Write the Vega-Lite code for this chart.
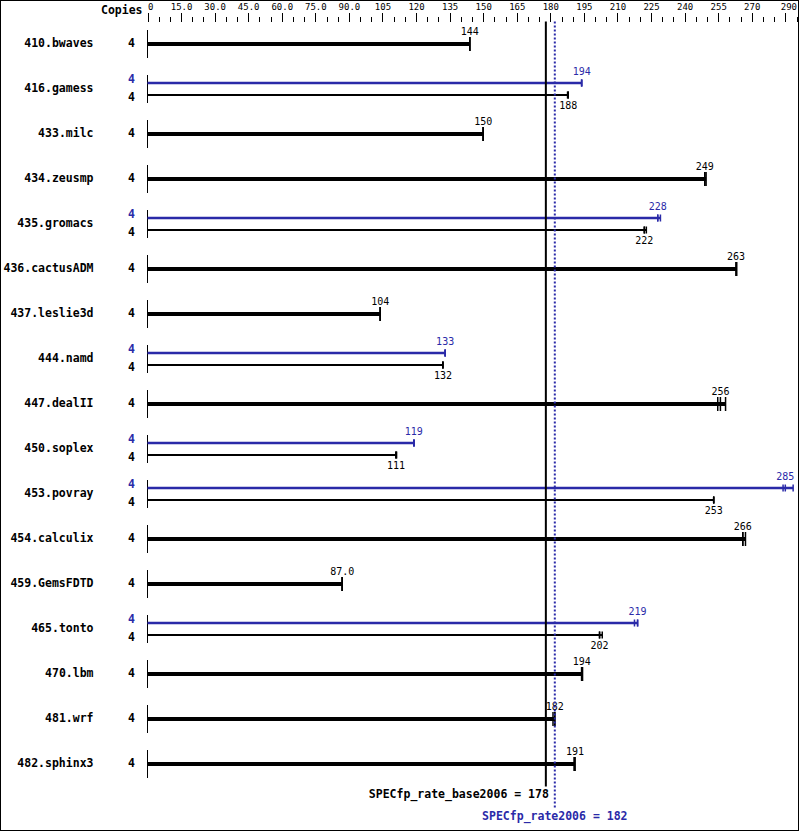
{
  "$schema": "https://vega.github.io/schema/vega-lite/v6.json",
  "width": 799,
  "height": 831,
  "autosize": "none",
  "padding": 0,
  "background": "white",
  "config": {
    "view": {"stroke": "black", "strokeWidth": 2},
    "font": "DejaVu Sans Mono",
    "text": {"font": "DejaVu Sans Mono"},
    "axisX": {"labelOverlap": false, "labelBound": false, "labelFlush": true, "domain": false, "grid": false, "tickColor": "black", "tickWidth": 1, "labelFont": "DejaVu Sans Mono", "labelFontSize": 9, "labelColor": "black", "title": null}
  },
  "resolve": {"axis": {"x": "independent"}},
  "datasets": {
    "bars": [
      {"bench": "410.bwaves", "series": "base", "copies": 4, "lo": 144, "mid": 144, "hi": 144},
      {"bench": "416.gamess", "series": "peak", "copies": 4, "lo": 194, "mid": 194, "hi": 194},
      {"bench": "416.gamess", "series": "base", "copies": 4, "lo": 187.7, "mid": 188, "hi": 188},
      {"bench": "433.milc", "series": "base", "copies": 4, "lo": 150, "mid": 150, "hi": 150},
      {"bench": "434.zeusmp", "series": "base", "copies": 4, "lo": 249, "mid": 249, "hi": 249.6},
      {"bench": "435.gromacs", "series": "peak", "copies": 4, "lo": 228, "mid": 228, "hi": 229.2},
      {"bench": "435.gromacs", "series": "base", "copies": 4, "lo": 222, "mid": 222, "hi": 222.9},
      {"bench": "436.cactusADM", "series": "base", "copies": 4, "lo": 263, "mid": 263, "hi": 263.3},
      {"bench": "437.leslie3d", "series": "base", "copies": 4, "lo": 104, "mid": 104, "hi": 104},
      {"bench": "444.namd", "series": "peak", "copies": 4, "lo": 133, "mid": 133, "hi": 133},
      {"bench": "444.namd", "series": "base", "copies": 4, "lo": 132, "mid": 132, "hi": 132},
      {"bench": "447.dealII", "series": "base", "copies": 4, "lo": 254.8, "mid": 256, "hi": 258.3},
      {"bench": "450.soplex", "series": "peak", "copies": 4, "lo": 119, "mid": 119, "hi": 119.2},
      {"bench": "450.soplex", "series": "base", "copies": 4, "lo": 111, "mid": 111, "hi": 111.3},
      {"bench": "453.povray", "series": "peak", "copies": 4, "lo": 284, "mid": 285, "hi": 288.5},
      {"bench": "453.povray", "series": "base", "copies": 4, "lo": 253, "mid": 253, "hi": 253},
      {"bench": "454.calculix", "series": "base", "copies": 4, "lo": 266, "mid": 266, "hi": 267.2},
      {"bench": "459.GemsFDTD", "series": "base", "copies": 4, "lo": 87, "mid": 87, "hi": 87},
      {"bench": "465.tonto", "series": "peak", "copies": 4, "lo": 217.6, "mid": 219, "hi": 219},
      {"bench": "465.tonto", "series": "base", "copies": 4, "lo": 202, "mid": 202, "hi": 203.2},
      {"bench": "470.lbm", "series": "base", "copies": 4, "lo": 194, "mid": 194, "hi": 194.4},
      {"bench": "481.wrf", "series": "base", "copies": 4, "lo": 181.2, "mid": 182, "hi": 182},
      {"bench": "482.sphinx3", "series": "base", "copies": 4, "lo": 190.6, "mid": 191, "hi": 191}
    ],
    "summary": [
      {"metric": "SPECfp_rate_base2006", "series": "base", "value": 178, "label": "SPECfp_rate_base2006 = 178"},
      {"metric": "SPECfp_rate2006", "series": "peak", "value": 182, "label": "SPECfp_rate2006 = 182"}
    ]
  },
  "layer": [
    {
      "data": {"name": "bars"},
      "transform": [
        {"joinaggregate": [{"op": "count", "as": "n"}], "groupby": ["bench"]}
      ],
      "layer": [
        {
          "transform": [{"filter": "datum.n == 1"}],
          "mark": {"type": "rule", "strokeWidth": 4, "color": "black"},
          "encoding": {
            "x": {
              "field": "hi",
              "type": "quantitative",
              "scale": {"domain": [0, 290], "range": [147.5, 796.5], "nice": false, "zero": false},
              "axis": {
                "orient": "top",
                "offset": -21.5,
                "title": null,
                "values": [0,15,30,45,60,75,90,105,120,135,150,165,180,195,210,225,240,255,270,285],
                "labelExpr": "datum.value === 0 ? '0' : datum.value <= 270 ? format(datum.value, '.3r') : ''",
                "tickSize": 9,
                "labelPadding": 1
              }
            },
            "x2": {"datum": 0},
            "y": {
              "field": "bench",
              "type": "nominal",
              "sort": null,
              "scale": {
                "domain": ["410.bwaves","416.gamess","433.milc","434.zeusmp","435.gromacs","436.cactusADM","437.leslie3d","444.namd","447.dealII","450.soplex","453.povray","454.calculix","459.GemsFDTD","465.tonto","470.lbm","481.wrf","482.sphinx3"],
                "range": [21.5, 786.5],
                "paddingInner": 0,
                "paddingOuter": 0
              },
              "axis": {
                "orient": "left",
                "offset": -147,
                "domain": false,
                "ticks": false,
                "grid": false,
                "labelPadding": 54,
                "labelFont": "DejaVu Sans Mono",
                "labelFontWeight": "bold",
                "labelFontSize": 11.5,
                "labelColor": "black",
                "title": "Copies",
                "titleAngle": 0,
                "titleAlign": "right",
                "titleBaseline": "middle",
                "titleX": -5,
                "titleY": 10,
                "titleFont": "DejaVu Sans Mono",
                "titleFontSize": 11.5,
                "titleFontWeight": "bold",
                "titleColor": "black"
              }
            }
          }
        },
        {
          "mark": {"type": "tick", "size": 28, "thickness": 1, "color": "black", "opacity": 1},
          "encoding": {
            "x": {"datum": 0, "type": "quantitative"},
            "y": {"field": "bench", "type": "nominal"}
          }
        },
        {
          "transform": [{"filter": "datum.n == 1"}, {"fold": ["lo", "mid", "hi"], "as": ["run", "result"]}],
          "mark": {"type": "tick", "size": 14, "thickness": 1.5, "color": "black", "opacity": 1},
          "encoding": {
            "x": {"field": "result", "type": "quantitative"},
            "y": {"field": "bench", "type": "nominal"}
          }
        },
        {
          "transform": [{"filter": "datum.n == 1"}],
          "mark": {"type": "text", "dy": -12, "fontSize": 10, "color": "black", "baseline": "middle", "align": "center"},
          "encoding": {
            "x": {"field": "mid", "type": "quantitative"},
            "y": {"field": "bench", "type": "nominal"},
            "text": {"field": "mid", "type": "quantitative", "format": ".3r"}
          }
        },
        {
          "transform": [{"filter": "datum.n == 1"}],
          "mark": {"type": "text", "dx": -16, "fontSize": 11.5, "fontWeight": "bold", "color": "black", "baseline": "middle", "align": "center"},
          "encoding": {
            "x": {"datum": 0, "type": "quantitative"},
            "y": {"field": "bench", "type": "nominal"},
            "text": {"field": "copies", "type": "nominal"}
          }
        },
        {
          "transform": [{"filter": "datum.n == 2 && datum.series == 'peak'"}],
          "mark": {"type": "rule", "strokeWidth": 2.5, "color": "#2a2aa8", "yOffset": -6},
          "encoding": {
            "x": {"field": "hi", "type": "quantitative"},
            "x2": {"datum": 0},
            "y": {"field": "bench", "type": "nominal"}
          }
        },
        {
          "transform": [{"filter": "datum.n == 2 && datum.series == 'peak'"}, {"fold": ["lo", "mid", "hi"], "as": ["run", "result"]}],
          "mark": {"type": "tick", "size": 7, "thickness": 1.5, "color": "#2a2aa8", "yOffset": -6, "opacity": 1},
          "encoding": {
            "x": {"field": "result", "type": "quantitative"},
            "y": {"field": "bench", "type": "nominal"}
          }
        },
        {
          "transform": [{"filter": "datum.n == 2 && datum.series == 'peak'"}],
          "mark": {"type": "text", "dy": -17, "fontSize": 10, "color": "#2a2aa8", "baseline": "middle", "align": "center"},
          "encoding": {
            "x": {"field": "mid", "type": "quantitative"},
            "y": {"field": "bench", "type": "nominal"},
            "text": {"field": "mid", "type": "quantitative", "format": ".3r"}
          }
        },
        {
          "transform": [{"filter": "datum.n == 2 && datum.series == 'peak'"}],
          "mark": {"type": "text", "dx": -16, "dy": -9, "fontSize": 11.5, "fontWeight": "bold", "color": "#2a2aa8", "baseline": "middle", "align": "center"},
          "encoding": {
            "x": {"datum": 0, "type": "quantitative"},
            "y": {"field": "bench", "type": "nominal"},
            "text": {"field": "copies", "type": "nominal"}
          }
        },
        {
          "transform": [{"filter": "datum.n == 2 && datum.series == 'base'"}],
          "mark": {"type": "rule", "strokeWidth": 2, "color": "black", "yOffset": 6},
          "encoding": {
            "x": {"field": "hi", "type": "quantitative"},
            "x2": {"datum": 0},
            "y": {"field": "bench", "type": "nominal"}
          }
        },
        {
          "transform": [{"filter": "datum.n == 2 && datum.series == 'base'"}, {"fold": ["lo", "mid", "hi"], "as": ["run", "result"]}],
          "mark": {"type": "tick", "size": 7, "thickness": 1.5, "color": "black", "yOffset": 6, "opacity": 1},
          "encoding": {
            "x": {"field": "result", "type": "quantitative"},
            "y": {"field": "bench", "type": "nominal"}
          }
        },
        {
          "transform": [{"filter": "datum.n == 2 && datum.series == 'base'"}],
          "mark": {"type": "text", "dy": 17, "fontSize": 10, "color": "black", "baseline": "middle", "align": "center"},
          "encoding": {
            "x": {"field": "mid", "type": "quantitative"},
            "y": {"field": "bench", "type": "nominal"},
            "text": {"field": "mid", "type": "quantitative", "format": ".3r"}
          }
        },
        {
          "transform": [{"filter": "datum.n == 2 && datum.series == 'base'"}],
          "mark": {"type": "text", "dx": -16, "dy": 8.5, "fontSize": 11.5, "fontWeight": "bold", "color": "black", "baseline": "middle", "align": "center"},
          "encoding": {
            "x": {"datum": 0, "type": "quantitative"},
            "y": {"field": "bench", "type": "nominal"},
            "text": {"field": "copies", "type": "nominal"}
          }
        },
        {
          "data": {"name": "summary"},
          "transform": [{"filter": "datum.series == 'base'"}],
          "mark": {"type": "rule", "strokeWidth": 2, "color": "black"},
          "encoding": {
            "x": {"field": "value", "type": "quantitative"},
            "y": {"datum": "410.bwaves", "type": "nominal", "bandPosition": 0},
            "y2": {"datum": "482.sphinx3", "bandPosition": 1}
          }
        },
        {
          "data": {"name": "summary"},
          "transform": [{"filter": "datum.series == 'peak'"}],
          "mark": {"type": "rule", "strokeWidth": 2, "color": "#2a2aa8", "strokeDash": [2, 2], "y2Offset": 21},
          "encoding": {
            "x": {"field": "value", "type": "quantitative"},
            "y": {"datum": "410.bwaves", "type": "nominal", "bandPosition": 0},
            "y2": {"datum": "482.sphinx3", "bandPosition": 1}
          }
        }
      ]
    },
    {
      "data": {"name": "summary"},
      "transform": [{"filter": "datum.series == 'base'"}],
      "mark": {"type": "text", "align": "right", "baseline": "middle", "dx": 3, "dy": -36, "fontSize": 11.5, "fontWeight": "bold", "color": "black"},
      "encoding": {
        "x": {
          "field": "value",
          "type": "quantitative",
          "axis": {
            "orient": "top",
            "offset": -21.5,
            "title": null,
            "values": [5,10,20,25,35,40,50,55,65,70,80,85,95,100,110,115,125,130,140,145,155,160,170,175,185,190,200,205,215,220,230,235,245,250,260,265,275,280],
            "labels": false,
            "tickSize": 5
          }
        },
        "y": {"value": "height"},
        "text": {"field": "label", "type": "nominal"}
      }
    },
    {
      "data": {"name": "summary"},
      "transform": [{"filter": "datum.series == 'peak'"}],
      "mark": {"type": "text", "align": "center", "baseline": "middle", "dy": -14, "fontSize": 11.5, "fontWeight": "bold", "color": "#2a2aa8"},
      "encoding": {
        "x": {
          "field": "value",
          "type": "quantitative",
          "axis": {
            "orient": "top",
            "offset": -21.5,
            "title": null,
            "values": [290],
            "format": "d",
            "labelFlush": true,
            "tickSize": 5,
            "labelPadding": 5
          }
        },
        "y": {"value": "height"},
        "text": {"field": "label", "type": "nominal"}
      }
    }
  ]
}
